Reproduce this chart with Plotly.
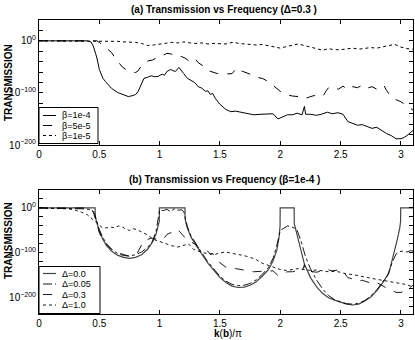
import plotly.graph_objs as go

# log10(transmission), x is k(b)/pi

# (a) delta = 0.3, beta = 1e-4 ; same curve is (b) delta = 0.3
k_b1e4 = [0, 0.40, 0.43, 0.45, 0.47, 0.48, 0.50, 0.53, 0.55, 0.58, 0.60, 0.65, 0.69, 0.74, 0.78,
          0.80, 0.82, 0.84, 0.86, 0.87, 0.90, 0.93, 0.96, 0.99, 1.02, 1.04, 1.06, 1.09, 1.11, 1.13,
          1.16, 1.18, 1.20, 1.23, 1.26, 1.29, 1.32, 1.35, 1.38, 1.40, 1.42, 1.44, 1.46, 1.50, 1.55,
          1.59, 1.63, 1.67, 1.72, 1.78, 1.84, 1.90, 1.94, 1.98, 2.02, 2.06, 2.10, 2.14, 2.18, 2.20,
          2.21, 2.25, 2.30, 2.34, 2.39, 2.43, 2.48, 2.52, 2.56, 2.60, 2.64, 2.68, 2.72, 2.76, 2.80,
          2.84, 2.88, 2.92, 2.96, 3.00, 3.03, 3.06, 3.08, 3.10]
logT_b1e4 = [0, 0, -2, -10, -25, -33, -55, -72, -78, -86, -91, -99, -103, -107, -105,
             -103, -98, -88, -76, -72, -70, -67, -69, -68, -64, -66, -59, -55, -57, -59,
             -51, -58, -63, -72, -76, -80, -88, -91, -97, -96, -103, -101, -110, -122, -132,
             -136, -135, -137, -139, -142, -141, -141, -140, -150, -146, -142, -142, -139, -142, -126,
             -141, -141, -143, -141, -137, -140, -138, -141, -155, -158, -162, -161, -165, -168, -166,
             -172, -178, -182, -188, -188, -185, -180, -176, -172]

k_b5e5 = [0, 0.48, 0.50, 0.53, 0.56, 0.60, 0.64, 0.69, 0.73, 0.77, 0.80, 0.82, 0.84, 0.86, 0.88,
          0.91, 0.94, 0.97, 1.00, 1.03, 1.06, 1.09, 1.12, 1.15, 1.18, 1.21, 1.24, 1.27, 1.29, 1.32,
          1.36, 1.40, 1.44, 1.48, 1.52, 1.56, 1.60, 1.63, 1.65, 1.68, 1.71, 1.75, 1.80, 1.85, 1.90,
          1.95, 2.00, 2.05, 2.10, 2.15, 2.20, 2.24, 2.28, 2.32, 2.36, 2.38, 2.40, 2.44, 2.48, 2.52,
          2.56, 2.60, 2.64, 2.68, 2.72, 2.76, 2.80, 2.83, 2.86, 2.88, 2.92, 2.96, 3.00, 3.04, 3.08, 3.10]
logT_b5e5 = [0, 0, -3, -9, -15, -22, -36, -50, -57, -60, -61, -58, -52, -44, -41,
             -38, -37, -33, -31, -28, -24, -25, -27, -31, -30, -33, -38, -35, -33, -42,
             -48, -57, -60, -63, -64, -63, -63, -55, -52, -58, -60, -64, -70, -72, -78,
             -88, -97, -103, -106, -107, -111, -108, -105, -108, -104, -96, -90, -89, -93, -87,
             -94, -88, -90, -85, -91, -88, -93, -90, -86, -95, -108, -113, -117, -123, -130, -133]

k_b1e5 = [0, 0.55, 0.60, 0.65, 0.70, 0.75, 0.80, 0.85, 0.90, 0.95, 1.00, 1.05, 1.10, 1.15, 1.20,
          1.25, 1.30, 1.35, 1.40, 1.45, 1.50, 1.55, 1.60, 1.65, 1.70, 1.75, 1.80, 1.85, 1.90, 1.95,
          2.00, 2.05, 2.10, 2.15, 2.20, 2.25, 2.30, 2.35, 2.40, 2.45, 2.50, 2.55, 2.60, 2.65, 2.70,
          2.75, 2.80, 2.85, 2.90, 2.95, 3.00, 3.05, 3.10]
logT_b1e5 = [0, 0, -1, -1, -2, -2, -3, -5, -9, -8, -6, -4, -3, -4, -2,
             -4, -5, -4, -6, -5, -5, -6, -3, -5, -6, -7, -8, -7, -9, -12,
             -14, -11, -8, -6, -9, -12, -16, -18, -15, -17, -17, -16, -14, -16, -14,
             -13, -14, -11, -9, -7, -12, -15, -16]

# (b) beta = 1e-4
k_d00 = [0, 0.465, 0.466, 0.48, 0.50, 0.53, 0.56, 0.60, 0.65, 0.70, 0.75, 0.80, 0.85, 0.90, 0.94,
         0.97, 0.99, 0.997, 0.998, 1.21, 1.211, 1.23, 1.26, 1.30, 1.35, 1.40, 1.45, 1.50, 1.55, 1.60,
         1.65, 1.70, 1.75, 1.80, 1.85, 1.90, 1.94, 1.97, 1.99, 1.998, 1.999, 2.115, 2.116, 2.13, 2.16,
         2.20, 2.25, 2.30, 2.35, 2.40, 2.45, 2.50, 2.55, 2.60, 2.65, 2.70, 2.75, 2.80, 2.85, 2.90,
         2.94, 2.97, 2.99, 2.997, 2.998, 3.10]
logT_d00 = [0, 0, -20, -33, -52, -70, -84, -96, -105, -110, -112, -110, -104, -92, -76,
            -58, -38, -30, 0, 0, -25, -45, -65, -83, -103, -123, -140, -155, -166, -174,
            -177, -176, -172, -164, -152, -138, -118, -95, -65, -40, 0, 0, -35, -50, -85,
            -125, -155, -175, -190, -200, -205, -210, -214, -216, -214, -207, -198, -184, -166, -145,
            -105, -70, -45, -30, 0, 0]

k_d005 = [0, 0.30, 0.38, 0.44, 0.46, 0.48, 0.50, 0.53, 0.56, 0.60, 0.65, 0.70, 0.75, 0.80, 0.85,
          0.90, 0.94, 0.97, 0.99, 1.00, 1.03, 1.06, 1.09, 1.12, 1.15, 1.18, 1.20, 1.21, 1.23, 1.26,
          1.30, 1.35, 1.40, 1.45, 1.50, 1.55, 1.60, 1.65, 1.70, 1.75, 1.80, 1.85, 1.90, 1.94, 1.97,
          2.00, 2.03, 2.06, 2.09, 2.12, 2.14, 2.17, 2.21, 2.25, 2.30, 2.35, 2.40, 2.45, 2.50, 2.55,
          2.60, 2.65, 2.70, 2.75, 2.80, 2.85, 2.89, 2.93, 2.96, 2.99, 3.02, 3.05, 3.08, 3.10]
logT_d005 = [0, -1, -2, -4, -12, -30, -48, -66, -80, -92, -101, -106, -107, -104, -98,
             -88, -74, -52, -20, -4, -6, -3, -8, -2, -5, -4, -8, -20, -42, -62,
             -80, -100, -120, -137, -152, -163, -170, -173, -172, -168, -160, -148, -133, -112, -85,
             -50, -44, -40, -42, -45, -50, -72, -109, -135, -160, -180, -195, -204, -209, -213,
             -214, -212, -206, -196, -182, -165, -150, -120, -102, -97, -96, -98, -95, -96]

k_d10 = [0, 0.20, 0.25, 0.30, 0.35, 0.40, 0.45, 0.50, 0.53, 0.56, 0.60, 0.63, 0.66, 0.69, 0.72,
         0.75, 0.78, 0.81, 0.85, 0.90, 0.95, 1.00, 1.05, 1.10, 1.15, 1.20, 1.24, 1.28, 1.32, 1.36,
         1.40, 1.45, 1.50, 1.55, 1.60, 1.65, 1.70, 1.75, 1.80, 1.85, 1.90, 1.95, 2.00, 2.05, 2.10,
         2.15, 2.20, 2.25, 2.30, 2.35, 2.40, 2.45, 2.50, 2.55, 2.60, 2.65, 2.70, 2.75, 2.80, 2.85,
         2.90, 2.95, 3.00, 3.05, 3.10]
logT_d10 = [0, -1, -2, -5, -9, -15, -26, -38, -45, -44, -43, -44, -40, -42, -47,
            -50, -46, -48, -53, -60, -70, -75, -80, -84, -87, -84, -80, -92, -96, -100,
            -101, -104, -100, -98, -101, -103, -106, -110, -115, -123, -128, -133, -137, -139, -137,
            -135, -137, -139, -138, -140, -142, -141, -143, -147, -148, -151, -154, -157, -159, -161,
            -164, -166, -168, -171, -176]

x_ticks = [0, 0.5, 1, 1.5, 2, 2.5, 3]
x_labels = ['0', '0.5', '1', '1.5', '2', '2.5', '3']
y_major = [0, -100, -200]
y_labels = ['10<sup>0</sup>', '10<sup>\u2212100</sup>', '10<sup>\u2212200</sup>']

FONT = 'Liberation Sans, Arial, sans-serif'

# plot area in pixels: x 39..413, y 20..314 (margins below)
W, H, L, R, T, B = 415, 340, 39, 2, 20, 26


def px(x):
    return (x - L) / (W - L - R)


def py(y):
    return (H - B - y) / (H - T - B)


series_a = [(k_b1e4, logT_b1e4, '\u03b2=1e-4', dict(color='black', width=1)),
            (k_b5e5, logT_b5e5, '\u03b2=5e-5', dict(color='black', width=1, dash='dash')),
            (k_b1e5, logT_b1e5, '\u03b2=1e-5', dict(color='black', width=1, dash='dot'))]
series_b = [(k_d00, logT_d00, '\u0394=0.0', dict(color='#444444', width=1.2)),
            (k_d005, logT_d005, '\u0394=0.05', dict(color='black', width=0.9, dash='dashdot')),
            (k_b1e4, logT_b1e4, '\u0394=0.3', dict(color='black', width=0.9, dash='dash')),
            (k_d10, logT_d10, '\u0394=1.0', dict(color='black', width=0.9, dash='dot'))]

traces = []
for xs, ys, name, ln in series_a:
    traces.append(go.Scatter(x=xs, y=ys, mode='lines', name=name, line=ln, showlegend=False))
for xs, ys, name, ln in series_b:
    traces.append(go.Scatter(x=xs, y=ys, mode='lines', name=name, line=ln, showlegend=False,
                             xaxis='x2', yaxis='y2'))

# legend boxes drawn by hand (plotly's legend rows are too tall for this size)
shapes = []
annotations = []
for series, box, rows in [(series_a, (39, 98, 107.5, 143.5), [115.5, 125.5, 135.5]),
                          (series_b, (39, 100, 266.5, 313.5), [273.5, 284, 294.5, 305])]:
    x0, x1, y0, y1 = box
    shapes.append(dict(type='rect', xref='paper', yref='paper', x0=px(x0), x1=px(x1),
                       y0=py(y1), y1=py(y0), fillcolor='white', line=dict(color='black', width=1),
                       layer='above'))
    for (xs, ys, name, ln), ry in zip(series, rows):
        shapes.append(dict(type='line', xref='paper', yref='paper', x0=px(43), x1=px(56),
                           y0=py(ry), y1=py(ry), line=ln, layer='above'))
        annotations.append(dict(text=name, x=px(60), y=py(ry), xref='paper', yref='paper',
                                xanchor='left', yanchor='middle', showarrow=False,
                                font=dict(size=9)))

ax = dict(showline=True, linecolor='black', linewidth=1, mirror='allticks', ticks='inside',
          ticklen=4, tickcolor='black', showgrid=False, zeroline=False, automargin=False,
          tickfont=dict(family=FONT, size=10, color='black'))

top_minor = [v for v in range(-200, 41, 20) if v % 100 != 0]
bot_minor = [v for v in range(-220, 41, 20) if v % 100 != 0]

txt = dict(xref='paper', yref='paper', showarrow=False, xanchor='center', yanchor='middle',
           font=dict(size=10))
annotations += [
    dict(txt, text='<b>(a) Transmission vs Frequency (\u0394=0.3 )</b>', x=px(224), y=py(10)),
    dict(txt, text='<b>(b) Transmission vs Frequency (\u03b2=1e-4 )</b>', x=px(224), y=py(180)),
    dict(txt, text='<b>TRANSMISSION</b>', x=px(8), y=py(83), textangle=-90),
    dict(txt, text='<b>TRANSMISSION</b>', x=px(8), y=py(241), textangle=-90),
    dict(txt, text='<b>k</b>(<b>b</b>)/\u03c0', x=px(228), y=py(333)),
]

layout = go.Layout(
    width=W, height=H, margin=dict(l=L, r=R, t=T, b=B),
    plot_bgcolor='white', paper_bgcolor='white', showlegend=False,
    font=dict(family=FONT, color='black'),
    xaxis=dict(ax, domain=[0, 1], range=[0, 3.1], tickvals=x_ticks, ticktext=x_labels, anchor='y'),
    yaxis=dict(ax, domain=[py(145), 1], range=[-200, 40], tickvals=y_major, ticktext=y_labels,
               minor=dict(tickvals=top_minor, ticks='inside', ticklen=4, tickcolor='black'),
               anchor='x'),
    xaxis2=dict(ax, domain=[0, 1], range=[0, 3.1], tickvals=x_ticks, ticktext=x_labels, anchor='y2'),
    yaxis2=dict(ax, domain=[0, py(190)], range=[-236, 40], tickvals=y_major, ticktext=y_labels,
                minor=dict(tickvals=bot_minor, ticks='inside', ticklen=4, tickcolor='black'),
                anchor='x2'),
    shapes=shapes,
    annotations=annotations,
)

fig = go.Figure(data=traces, layout=layout)
# page body has a default 8px margin; drop it so the figure sits at the window corner
fig.write_html('out.html', config={'displayModeBar': False},
               post_script="document.body.style.margin='0';")
